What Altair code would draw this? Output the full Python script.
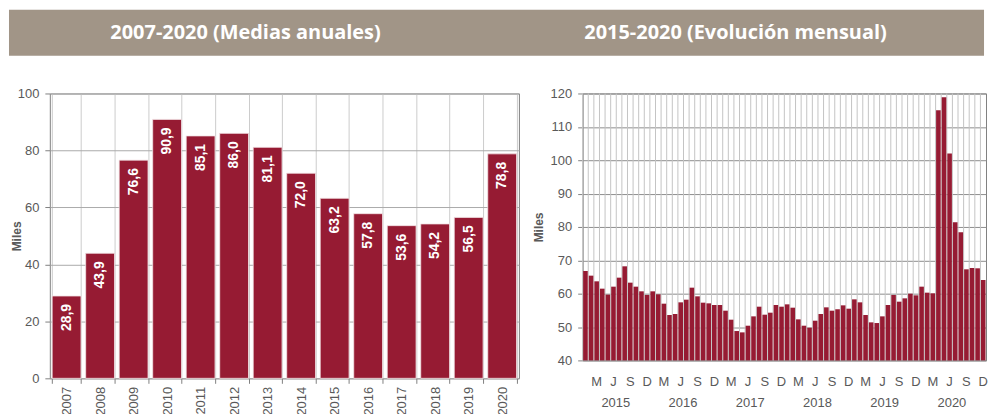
import altair as alt
import pandas as pd

RED = "#961B33"
HDR = "#A19587"
LBL = "#595959"
FONT = "Liberation Sans"

title_left = "2007-2020 (Medias anuales)"
title_right = "2015-2020 (Evolución mensual)"
y_title = "Miles"

years = ["2007", "2008", "2009", "2010", "2011", "2012", "2013",
         "2014", "2015", "2016", "2017", "2018", "2019", "2020"]
annual = [28.9, 43.9, 76.6, 90.9, 85.1, 86.0, 81.1,
          72.0, 63.2, 57.8, 53.6, 54.2, 56.5, 78.8]

month_years = ["2015", "2016", "2017", "2018", "2019", "2020"]
m2015 = [66.8, 65.4, 63.7, 61.5, 59.7, 62.1, 64.8, 68.2, 63.3, 62.1, 60.7, 59.6]
m2016 = [60.7, 59.8, 57.0, 53.6, 53.9, 57.4, 58.2, 61.8, 59.2, 57.3, 57.1, 56.6]
m2017 = [56.6, 54.9, 52.2, 48.8, 48.4, 50.4, 53.2, 56.1, 53.7, 54.3, 56.6, 56.1]
m2018 = [56.8, 55.8, 52.3, 50.4, 49.8, 51.9, 53.9, 55.9, 54.9, 55.3, 56.5, 55.5]
m2019 = [58.3, 57.4, 53.6, 51.4, 51.2, 53.2, 56.6, 59.6, 57.6, 58.6, 60.0, 59.5]
m2020 = [62.1, 60.3, 60.1, 115.0, 118.9, 102.0, 81.4, 78.4, 67.3, 67.7, 67.6, 64.1]
month_nums = ["01", "02", "03", "04", "05", "06", "07", "08", "09", "10", "11", "12"]
quarter_months = ["03", "06", "09", "12"]
quarter_letters = ["M", "J", "S", "D"]

ann = pd.DataFrame({"year": years, "v": annual})

monthly_vals = m2015 + m2016 + m2017 + m2018 + m2019 + m2020
monthly_keys = [f"{y}-{m}" for y in month_years for m in month_nums]
mon = pd.DataFrame({"m": monthly_keys, "v": monthly_vals})

qlab = pd.DataFrame({
    "m": [f"{y}-{q}" for y in month_years for q in quarter_months],
    "t": [l for y in month_years for l in quarter_letters],
})

LW, LH = 471, 286
RW, RH = 405, 268

# ---------------- left chart ----------------
lbase = alt.Chart(ann)
lbars = lbase.mark_bar(color=RED, stroke="#f3e3e6", strokeWidth=0.8).encode(
    x=alt.X("year:N",
            scale=alt.Scale(paddingInner=0.14, paddingOuter=0.07),
            axis=alt.Axis(title=None, labelAngle=-90, tickBand="extent", grid=True,
                          gridColor="#cccccc", tickColor="#808080", tickSize=5,
                          domain=False, labelPadding=3, labelFontSize=13,
                          labelColor=LBL, labelFont=FONT)),
    y=alt.Y("v:Q",
            scale=alt.Scale(domain=[0, 100]),
            axis=alt.Axis(title=y_title, values=[0, 20, 40, 60, 80, 100], grid=True,
                          gridColor="#aaaaaa", tickColor="#808080", tickSize=5,
                          domain=False, labelPadding=6, labelFontSize=13,
                          labelColor=LBL, labelFont=FONT, titleFont=FONT,
                          titleFontSize=12, titleFontWeight="bold", titleColor=LBL,
                          titlePadding=-6)),
)
lvals = lbase.transform_calculate(
    lbl="replace(format(datum.v, '.1f'), '.', ',')"
).mark_text(angle=270, align="right", baseline="middle", dx=-8, color="white",
            font=FONT, fontWeight="bold", fontSize=14).encode(
    x="year:N", y="v:Q", text="lbl:N")

hdr_df = pd.DataFrame({"k": [0]})
hdr = alt.Chart(hdr_df).mark_rect(color=HDR).encode(
    x=alt.value(-41), x2=alt.value(938), y=alt.value(-84), y2=alt.value(-38))
t1 = alt.Chart(pd.DataFrame({"t": [title_left]})).mark_text(
    color="white", font="Open Sans", fontWeight="bold", fontSize=20,
    align="center", baseline="middle").encode(
    x=alt.value(196.5), y=alt.value(-61), text="t:N")
t2 = alt.Chart(pd.DataFrame({"t": [title_right]})).mark_text(
    color="white", font="Open Sans", fontWeight="bold", fontSize=20,
    align="center", baseline="middle").encode(
    x=alt.value(688.5), y=alt.value(-61), text="t:N")

left = alt.layer(hdr, t1, t2, lbars, lvals).properties(width=LW, height=LH)

# ---------------- right chart ----------------
rx_scale = alt.Scale(paddingInner=0.18, paddingOuter=0.09)

rgrid = alt.Chart(mon).mark_rule(color="#c4c4c4", strokeWidth=1, xOffset=-0.5).encode(
    x=alt.X("m:N", bandPosition=0, scale=rx_scale, axis=None),
    y=alt.value(0),
    y2=alt.value(RH),
)
rbars = alt.Chart(mon).mark_bar(color=RED).encode(
    x=alt.X("m:N", scale=rx_scale, axis=None),
    y=alt.Y("v:Q",
            scale=alt.Scale(domain=[40, 120]),
            axis=alt.Axis(title=y_title, values=[40, 50, 60, 70, 80, 90, 100, 110, 120],
                          grid=True, gridColor="#8c8c8c", tickColor="#808080",
                          tickSize=5, domain=False, labelPadding=6, labelFontSize=13,
                          labelColor=LBL, labelFont=FONT, titleFont=FONT,
                          titleFontSize=12, titleFontWeight="bold", titleColor=LBL,
                          titlePadding=5)),
    y2=alt.datum(40),
)
rq = alt.Chart(qlab).mark_text(font=FONT, fontSize=13, color=LBL,
                               baseline="middle", align="center").encode(
    x=alt.X("m:N", axis=None),
    y=alt.value(RH + 22),
    text="t:N",
)
ryears = alt.Chart(pd.DataFrame({"yr": month_years})).transform_calculate(
    m="datum.yr + '-06'"
).mark_text(font=FONT, fontSize=13, color=LBL, baseline="middle", align="center").encode(
    x=alt.X("m:N", bandPosition=1, axis=None),
    y=alt.value(RH + 43),
    text="yr:N",
)
right = alt.layer(rgrid, rbars, rq, ryears).properties(width=RW, height=RH)

chart = alt.hconcat(left, right, spacing=64, bounds="flush").properties(
    padding=0
).configure_view(stroke="#808080", strokeWidth=1)

chart.save("out.html", embed_options={"renderer": "svg", "actions": False})
